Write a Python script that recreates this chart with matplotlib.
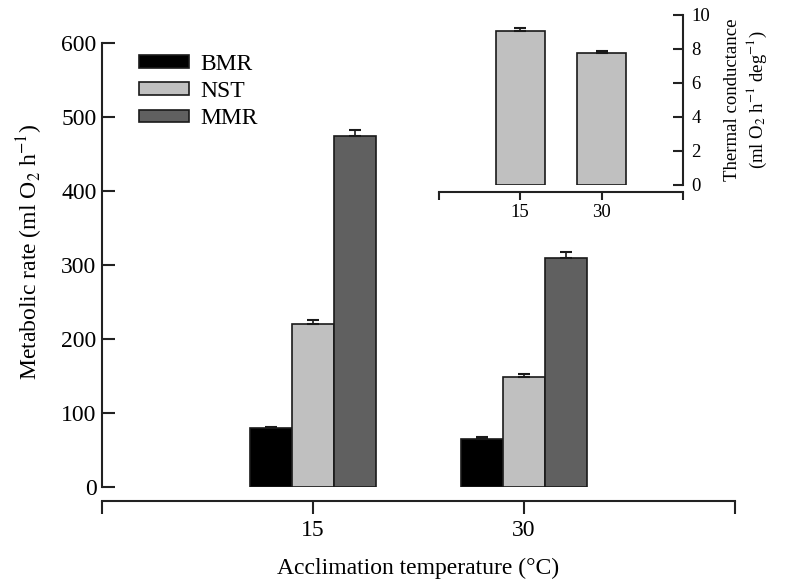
import numpy as np
import matplotlib
matplotlib.use('Agg')
import matplotlib.pyplot as plt

plt.rcParams['font.family'] = ['Liberation Serif', 'DejaVu Serif']
plt.rcParams['mathtext.fontset'] = 'stix'

temps = [15, 30]
series = ['BMR', 'NST', 'MMR']
rate_mean = {
    'BMR': [79, 65],
    'NST': [220, 148],
    'MMR': [475, 309],
}
rate_err = {
    'BMR': [1.5, 2],
    'NST': [5, 4],
    'MMR': [8, 8],
}
conductance = [9.08, 7.75]
conductance_err = [0.15, 0.13]

FILL = {'BMR': '#000000', 'NST': '#c0c0c0', 'MMR': '#606060'}
EDGE = '#1a1a1a'
INK = '#222222'


def frame(ax, side):
    for s in ['top', 'right', 'left', 'bottom']:
        ax.spines[s].set_visible(False)
    ax.spines[side].set_visible(True)
    ax.spines['bottom'].set_visible(True)
    ax.spines[side].set_color(INK)
    ax.spines['bottom'].set_color(INK)
    ax.spines[side].set_linewidth(1.5)
    ax.spines['bottom'].set_linewidth(1.5)


fig = plt.figure(figsize=(7.85, 5.85), dpi=100)

# main panel: metabolic rates
ax = fig.add_axes([0.1299, 0.168, 0.806, 0.758])
frame(ax, 'left')
ax.spines['bottom'].set_position(('outward', 10))
ax.spines['left'].set_bounds(0, 600)
width = 3
offsets = {'BMR': -width, 'NST': 0, 'MMR': width}
for s in series:
    x = np.array(temps) + offsets[s]
    ax.bar(x, rate_mean[s], width=width, color=FILL[s], edgecolor=EDGE,
           linewidth=1.2, label=s, zorder=2)
    ax.errorbar(x, rate_mean[s], yerr=[np.zeros(2), rate_err[s]], fmt='none',
                ecolor=EDGE, elinewidth=1.2, capsize=4, capthick=1.5, zorder=3)
ax.set_xlim(0, 45)
ax.set_ylim(0, 600)
ax.set_xticks([0, 15, 30, 45])
ax.set_xticklabels(['', '15', '30', ''])
ax.set_yticks(range(0, 601, 100))
ax.tick_params(axis='y', direction='in', length=9, width=1.5, colors=INK,
               labelsize=17, pad=4)
ax.tick_params(axis='x', direction='out', length=9, width=1.5, colors=INK,
               labelsize=17, pad=5)
for lab in ax.get_xticklabels() + ax.get_yticklabels():
    lab.set_color('black')
ax.set_xlabel('Acclimation temperature (°C)', fontsize=17, labelpad=12)
ax.set_ylabel('Metabolic rate (ml O$_2$ h$^{-1}$)', fontsize=17)
ax.yaxis.set_label_coords(-0.09, 0.53)
leg = ax.legend(loc='upper left', bbox_to_anchor=(0.033, 1.013), frameon=False,
                fontsize=17, handlelength=2.1, handleheight=0.45,
                labelspacing=0.26, handletextpad=0.5, borderaxespad=0.3)

# inset: thermal conductance
ins = fig.add_axes([0.559, 0.6838, 0.311, 0.2906])
frame(ins, 'right')
ins.spines['bottom'].set_position(('outward', 5))
ins.bar(temps, conductance, width=9, color=FILL['NST'], edgecolor=EDGE,
        linewidth=1.2, zorder=2)
ins.errorbar(temps, conductance, yerr=[np.zeros(2), conductance_err], fmt='none',
             ecolor=EDGE, elinewidth=1.2, capsize=4, capthick=1.5, zorder=3)
ins.set_xlim(0, 45)
ins.set_ylim(0, 10)
ins.set_xticks([0, 15, 30, 45])
ins.set_xticklabels(['', '15', '30', ''])
ins.set_yticks(range(0, 11, 2))
ins.yaxis.tick_right()
ins.yaxis.set_label_position('right')
ins.tick_params(axis='y', direction='in', length=7, width=1.5, colors=INK,
                labelsize=13.5, pad=6)
ins.tick_params(axis='x', direction='out', length=6, width=1.5, colors=INK,
                labelsize=13.5, pad=3)
for lab in ins.get_xticklabels() + ins.get_yticklabels():
    lab.set_color('black')
ins.set_ylabel('Thermal conductance\n(ml O$_2$ h$^{-1}$ deg$^{-1}$)', fontsize=13.5,
               labelpad=10, linespacing=1.2)

fig.savefig('out.png', dpi=100)
